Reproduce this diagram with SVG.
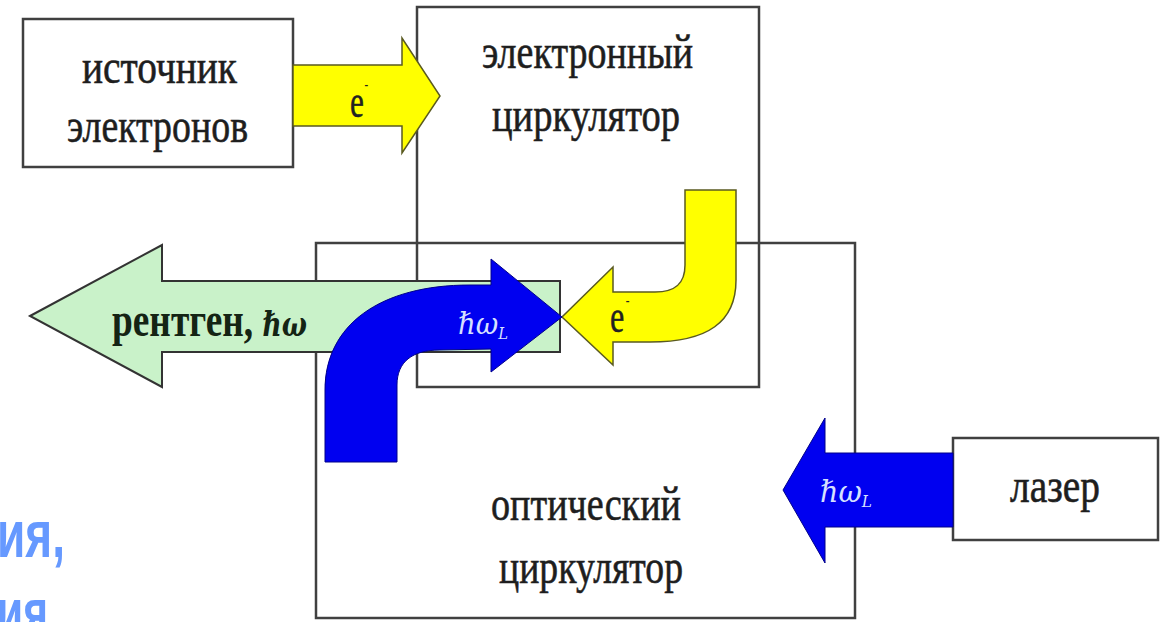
<svg xmlns="http://www.w3.org/2000/svg" width="1160" height="622" viewBox="0 0 1160 622">
<style>
.box{fill:none;stroke:#404040;stroke-width:2.5}
.lbl{font-family:"Liberation Serif","DejaVu Serif",serif;font-size:48px;fill:#1e1e1e;stroke:#1e1e1e;stroke-width:0.6}
.yel{fill:#ffff00;stroke:#5a5a20;stroke-width:1.5;stroke-linejoin:miter}
.grn{fill:#c9f2c9;stroke:#333;stroke-width:2}
.blu{fill:#0000f0;stroke:#00008a;stroke-width:1}
.el{font-family:"Liberation Serif","DejaVu Serif",serif;font-size:46px;fill:#222;stroke:#222;stroke-width:0.5}
.mn{font-size:16px;stroke-width:0}
.hw{font-family:"DejaVu Serif","Liberation Serif",serif;font-style:italic;font-size:30px;fill:#d6e0ff}
.side{font-family:"Liberation Sans","DejaVu Sans",sans-serif;font-weight:bold;font-size:66px;fill:#6699ff}
</style>
<rect width="1160" height="622" fill="#ffffff"/>
<g id="node-source">
<rect class="box" x="23" y="19" width="270" height="148"/>
<text class="lbl" x="82" y="83" textLength="155" lengthAdjust="spacingAndGlyphs">источник</text>
<text class="lbl" x="67" y="142" textLength="181" lengthAdjust="spacingAndGlyphs">электронов</text>
</g>
<g id="node-electron-circulator">
<rect class="box" x="417" y="7" width="342" height="380"/>
<text class="lbl" x="482" y="68" textLength="211" lengthAdjust="spacingAndGlyphs">электронный</text>
<text class="lbl" x="492" y="131" textLength="188" lengthAdjust="spacingAndGlyphs">циркулятор</text>
</g>
<g id="node-optical-circulator">
<rect class="box" x="316" y="243" width="539" height="375"/>
<text class="lbl" x="491" y="520" textLength="190" lengthAdjust="spacingAndGlyphs">оптический</text>
<text class="lbl" x="499" y="583" textLength="184" lengthAdjust="spacingAndGlyphs">циркулятор</text>
</g>
<g id="node-laser">
<rect class="box" x="953" y="438" width="205" height="102" fill="#fff"/>
<text class="lbl" x="1010" y="502" textLength="90" lengthAdjust="spacingAndGlyphs">лазер</text>
</g>
<g id="connectors">
<g id="arrow-e-in">
<path class="yel" d="M293,65 L402,65 L402,38 L440,96 L402,153 L402,126 L293,126 Z"/>
<text class="el" transform="translate(350,117) scale(0.68,1)" x="0" y="0">e<tspan class="mn" dx="1" dy="-27">-</tspan></text>
</g>
<g id="arrow-e-back">
<path class="yel" d="M685,190 L736,190 L736,280 C736,322 708,342 650,342 L613,342 L613,365 L562,317 L613,267 L613,292 L655,292 C676,292 685,283 685,265 Z"/>
<text class="el" transform="translate(610,332) scale(0.7,1)" x="0" y="0">e<tspan class="mn" dx="2" dy="-26">-</tspan></text>
</g>
<g id="arrow-xray">
<path class="grn" d="M30,316 L162,245 L162,281 L560,281 L560,352 L162,352 L162,387 Z"/>
<text x="112" y="336" textLength="195" lengthAdjust="spacingAndGlyphs" font-family="Liberation Serif, DejaVu Serif, serif" font-weight="bold" font-size="48" fill="#142414">рентген, <tspan font-family="DejaVu Serif, Liberation Serif, serif" font-style="italic" font-size="34">ℏω</tspan></text>
</g>
<g id="arrow-laser-curved">
<path class="blu" d="M325,462 L325,390 C325,325 380,285 470,285 L491,285 L491,259 L562,317 L491,372 L491,349 L440,350 C412,350 397,362 397,385 L397,462 Z"/>
<text class="hw" x="458" y="334" textLength="50" lengthAdjust="spacingAndGlyphs">ℏω<tspan font-size="16" dy="5">L</tspan></text>
</g>
<g id="arrow-laser-in">
<path class="blu" d="M953,453 L825,453 L825,418 L783,490 L825,563 L825,527 L953,527 Z"/>
<text class="hw" x="820" y="502" textLength="52" lengthAdjust="spacingAndGlyphs">ℏω<tspan font-size="16" dy="5">L</tspan></text>
</g>
</g>
<g id="side-text">
<text class="side" x="-3" y="557" textLength="68" lengthAdjust="spacingAndGlyphs">ия,</text>
<text class="side" x="-3" y="635" textLength="51" lengthAdjust="spacingAndGlyphs">ия</text>
</g>
</svg>
